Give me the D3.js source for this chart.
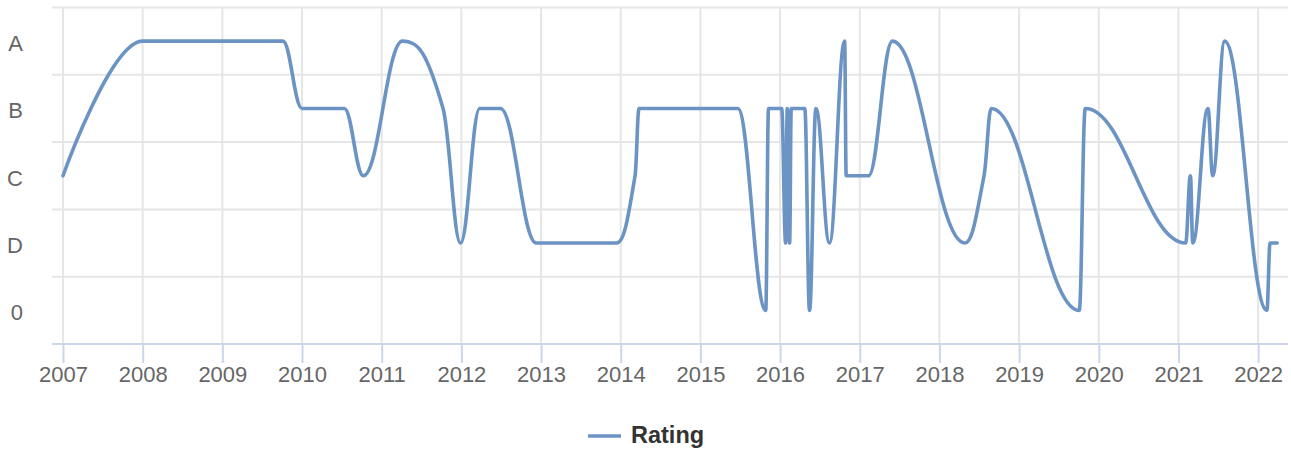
<!DOCTYPE html>
<html>
<head>
<meta charset="utf-8">
<script src="https://cdn.jsdelivr.net/npm/d3@7"></script>
<style>
  html, body { margin: 0; padding: 0; background: #fff; }
  #chart { width: 1291px; height: 450px; }
  text { font-family: "Liberation Sans", Arial, sans-serif; }
</style>
</head>
<body>
<div id="chart"></div>
<script>
// rating categories, bottom to top
var categories = ["0", "D", "C", "B", "A"];

// decimal years and the rating at each date
var dates = [
  2007.0, 2008.0, 2009.76, 2010.0, 2010.53, 2010.77, 2011.26, 2011.77, 2011.99,
  2012.23, 2012.49, 2012.94, 2013.95, 2014.18, 2014.23, 2015.47, 2015.82, 2015.855,
  2016.02, 2016.07, 2016.09, 2016.12, 2016.14, 2016.31, 2016.37, 2016.45, 2016.62,
  2016.81, 2016.83, 2017.11, 2017.41, 2018.32, 2018.56, 2018.65, 2019.755, 2019.83,
  2021.09, 2021.15, 2021.18, 2021.37, 2021.43, 2021.58, 2022.11, 2022.15, 2022.24
];
var ratings = [
  "C", "A", "A", "B", "B", "C", "A", "B", "D",
  "B", "B", "D", "D", "C", "B", "B", "0", "B",
  "B", "D", "B", "D", "B", "B", "0", "B", "D",
  "A", "C", "C", "A", "D", "C", "B", "0", "B",
  "D", "C", "D", "B", "C", "A", "0", "D", "D"
];
var yearTicks = d3.range(2007, 2023);
var seriesName = "Rating";

var width = 1291, height = 450;
var plot = { left: 52, right: 1288, top: 7.5, bottom: 344 };
var lineColor = "#6b93c4";

var svg = d3.select("#chart").append("svg")
  .attr("width", width)
  .attr("height", height);

var x = d3.scaleLinear()
  .domain([2007, 2022.375])
  .range([63, plot.right]);

var y = d3.scaleLinear()
  .domain([-0.5, 4.5])
  .range([plot.bottom, plot.top]);

// horizontal grid lines between categories
var gridY = d3.range(-0.5, 5, 1);
svg.append("g").selectAll("line")
  .data(gridY.slice(1))
  .enter().append("line")
    .attr("x1", plot.left).attr("x2", plot.right)
    .attr("y1", d => y(d)).attr("y2", d => y(d))
    .attr("stroke", "#e6e6e6")
    .attr("stroke-width", 2);

// vertical grid lines at each year
svg.append("g").selectAll("line")
  .data(yearTicks)
  .enter().append("line")
    .attr("x1", d => x(d)).attr("x2", d => x(d))
    .attr("y1", plot.top).attr("y2", plot.bottom)
    .attr("stroke", "#e6e6e6")
    .attr("stroke-width", 2);

// x axis
var xAxis = d3.axisBottom(x)
  .tickValues(yearTicks)
  .tickFormat(d3.format("d"))
  .tickSize(19)
  .tickPadding(3);

var gx = svg.append("g")
  .attr("transform", "translate(0," + plot.bottom + ")")
  .call(xAxis);
gx.select(".domain").remove();
gx.selectAll(".tick line").attr("stroke", "#ccd6eb").attr("stroke-width", 2);
gx.selectAll(".tick text")
  .attr("fill", "#666666")
  .attr("font-size", "22px")
  .attr("font-family", "Liberation Sans, Arial, sans-serif");
gx.append("line")
  .attr("x1", plot.left).attr("x2", plot.right)
  .attr("y1", 0).attr("y2", 0)
  .attr("stroke", "#ccd6eb")
  .attr("stroke-width", 2);

// y axis category labels
var yAxis = d3.axisLeft(y)
  .tickValues(d3.range(categories.length))
  .tickFormat(i => categories[i])
  .tickSize(0)
  .tickPadding(29);
var gy = svg.append("g")
  .attr("transform", "translate(" + plot.left + ",0)")
  .call(yAxis);
gy.select(".domain").remove();
gy.selectAll(".tick text")
  .attr("fill", "#666666")
  .attr("font-size", "22px")
  .attr("dy", "0.42em")
  .attr("font-family", "Liberation Sans, Arial, sans-serif");

// Highcharts-style spline path
function splinePath(pts) {
  var smoothing = 1.5, denom = smoothing + 1;
  var path = "";
  var ctrl = pts.map(function() { return {}; });
  pts.forEach(function(p, i) {
    var last = pts[i - 1], next = pts[i + 1];
    if (last && next) {
      var lcx = (smoothing * p[0] + last[0]) / denom,
          lcy = (smoothing * p[1] + last[1]) / denom,
          rcx = (smoothing * p[0] + next[0]) / denom,
          rcy = (smoothing * p[1] + next[1]) / denom;
      if (rcx !== lcx) {
        var corr = ((rcy - lcy) * (rcx - p[0])) / (rcx - lcx) + p[1] - rcy;
        lcy += corr; rcy += corr;
      }
      if (lcy > last[1] && lcy > p[1]) {
        lcy = Math.max(last[1], p[1]); rcy = 2 * p[1] - lcy;
      } else if (lcy < last[1] && lcy < p[1]) {
        lcy = Math.min(last[1], p[1]); rcy = 2 * p[1] - lcy;
      }
      if (rcy > next[1] && rcy > p[1]) {
        rcy = Math.max(next[1], p[1]); lcy = 2 * p[1] - rcy;
      } else if (rcy < next[1] && rcy < p[1]) {
        rcy = Math.min(next[1], p[1]); lcy = 2 * p[1] - rcy;
      }
      ctrl[i] = { lx: lcx, ly: lcy, rx: rcx, ry: rcy };
    }
  });
  pts.forEach(function(p, i) {
    if (i === 0) { path += "M" + p[0] + "," + p[1]; return; }
    var a = ctrl[i - 1], b = ctrl[i], prev = pts[i - 1];
    var c1x = a.rx !== undefined ? a.rx : prev[0],
        c1y = a.ry !== undefined ? a.ry : prev[1],
        c2x = b.lx !== undefined ? b.lx : p[0],
        c2y = b.ly !== undefined ? b.ly : p[1];
    path += "C" + c1x + "," + c1y + "," + c2x + "," + c2y + "," + p[0] + "," + p[1];
  });
  return path;
}

var points = dates.map(function(d, i) {
  return [x(d), y(categories.indexOf(ratings[i]))];
});

svg.append("path")
  .attr("d", splinePath(points))
  .attr("fill", "none")
  .attr("stroke", lineColor)
  .attr("stroke-width", 3.6)
  .attr("stroke-linejoin", "round")
  .attr("stroke-linecap", "round");

// legend
var legend = svg.append("g").attr("transform", "translate(588,436)");
legend.append("line")
  .attr("x1", 0).attr("x2", 33)
  .attr("y1", 0).attr("y2", 0)
  .attr("stroke", lineColor)
  .attr("stroke-width", 3.6);
legend.append("text")
  .attr("x", 43).attr("y", 7)
  .attr("fill", "#333333")
  .attr("font-size", "23.5px")
  .attr("font-weight", "bold")
  .text(seriesName);
</script>
</body>
</html>
